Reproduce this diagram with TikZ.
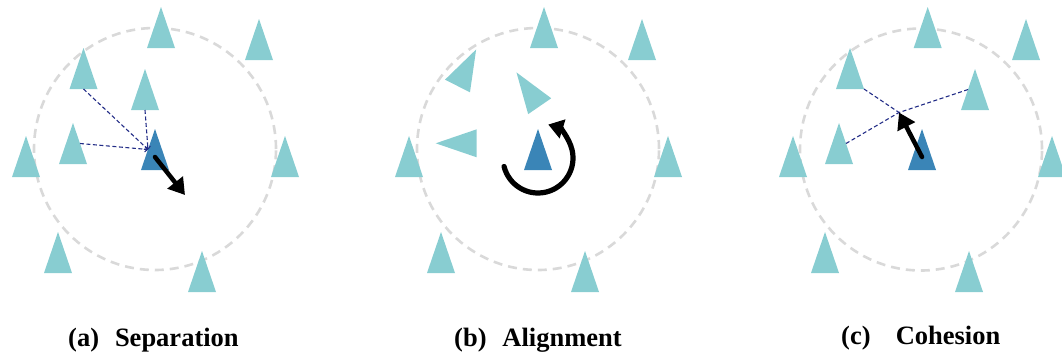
\documentclass[tikz,border=0pt]{standalone}
\usepackage{fontspec}
\setmainfont{Liberation Serif}
\usetikzlibrary{arrows.meta}

\definecolor{boidlight}{RGB}{136,205,209}
\definecolor{leaderblue}{RGB}{58,133,183}
\definecolor{linknavy}{RGB}{35,45,135}
\definecolor{ringgray}{RGB}{217,217,217}

\tikzset{
  pics/boid/.style={code={
    \fill[#1] (-14,0) -- (14,0) -- (0,-41) -- cycle;
    \coordinate (-b)  at (0,0);
    \coordinate (-m)  at (0,-13);
    \coordinate (-l)  at (-7,-20.5);
    \coordinate (-r)  at (7,-20.5);
    \coordinate (-br) at (14,0);
  }},
  pics/boid/.default=boidlight,
  ring/.style={draw=ringgray, line width=2.6pt, dash pattern=on 9pt off 6pt},
  link/.style={draw=linknavy, line width=1.1pt, dash pattern=on 4pt off 2.5pt},
  linkarrow/.style={link, -{To[length=3.5pt,width=6pt]}},
  steer/.style={draw=black, line width=4.5pt, line cap=round,
                -{Triangle[length=16pt,width=19pt]}},
  caption/.style={font=\fontsize{26.5}{31}\selectfont\bfseries, inner sep=0pt, anchor=base west},
}

\begin{document}
\begin{tikzpicture}[x=1pt, y=-1pt]
  \useasboundingbox (0,0) rectangle (1062,356);
  \clip (0,0) rectangle (1062,356);

  % perception radius of each panel
  \draw[ring] (155,149) circle[radius=121pt];
  \draw[ring] (538,149) circle[radius=121pt];
  \draw[ring] (921,149.5) circle[radius=121pt];

  % ---------- (a) Separation ----------
  \pic (a1) at (161,48)  {boid};
  \pic (a2) at (259,60)  {boid};
  \pic (a3) at (83.5,89) {boid};
  \pic (a4) at (145,110) {boid};
  \pic (a5) at (73,164)  {boid};
  \pic (a6) at (26,177)  {boid};
  \pic (a7) at (285,177) {boid};
  \pic (a8) at (58,273)  {boid};
  \pic (a9) at (202,292) {boid};
  \pic (aL) at (155,170) {boid=leaderblue};
  \coordinate (aV) at (185,195);

  \draw[linkarrow] (a3-b) -- (aL-l);
  \draw[linkarrow] (a4-b) -- (aL-l);
  \draw[linkarrow] (a5-r) -- (aL-l);
  \draw[steer] (aL-m) -- (aV);

  % ---------- (b) Alignment ----------
  \pic (b1) at (544,48)  {boid};
  \pic (b2) at (642,60)  {boid};
  \pic[rotate=-27]  (b3) at (457.5,86)    {boid};
  \pic[rotate=34.5] (b4) at (539.7,106.2) {boid};
  \pic[rotate=90]   (b5) at (476.7,143.3) {boid};
  \pic (b6) at (409,177) {boid};
  \pic (b7) at (668,177) {boid};
  \pic (b8) at (441,273) {boid};
  \pic (b9) at (585,292) {boid};
  \pic (bL) at (538,170) {boid=leaderblue};
  \coordinate (bO) at (538,158);

  \draw[black, line width=5.2pt, line cap=round, -{Triangle[length=15pt,width=19pt]}]
    ([shift={(194:35pt)}]bO) arc[start angle=194, end angle=433, radius=35pt];

  % ---------- (c) Cohesion ----------
  \pic (c1) at (927.7,48) {boid};
  \pic (c2) at (1026,60)  {boid};
  \pic (c3) at (850,89)   {boid};
  \pic (c4) at (975,110)  {boid};
  \pic (c5) at (839,164)  {boid};
  \pic (c6) at (793,177)  {boid};
  \pic (c7) at (1052,177) {boid};
  \pic (c8) at (825,273)  {boid};
  \pic (c9) at (969,292)  {boid};
  \pic (cL) at (922,170)  {boid=leaderblue};
  \coordinate (cP) at (899,112.5);

  \draw[link] (c3-br) -- (cP);
  \draw[link] (c5-r) -- (cP);
  \draw[link] (c4-l) -- (cP);
  \draw[steer] (cL-m) -- (cP);

  % ---------- captions ----------
  \node[caption] (capa) at (68,346)  {(a)\hspace{0.6em}Separation};
  \node[caption] (capb) at (454,346) {(b)\hspace{0.6em}Alignment};
  \node[caption] (capc) at (841,344) {(c)\hspace{0.95em}Cohesion};
\end{tikzpicture}
\end{document}
